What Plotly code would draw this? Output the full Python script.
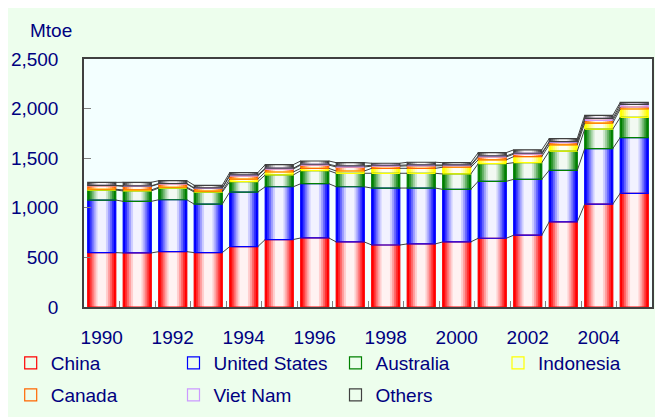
import plotly.graph_objects as go

years = list(range(1990, 2006))
china = [548, 545, 558, 548, 609, 680, 696, 656, 625, 636, 656, 693, 724, 858, 1037, 1146]
united_states = [530, 520, 523, 489, 550, 532, 547, 556, 574, 563, 530, 574, 563, 520, 560, 562]
australia = [101, 105, 118, 122, 104, 119, 131, 136, 149, 149, 155, 178, 168, 193, 196, 203]
indonesia = [8, 10, 8, 10, 27, 30, 24, 23, 50, 50, 68, 38, 61, 63, 61, 85]
canada = [35, 37, 33, 27, 31, 30, 33, 40, 22, 25, 15, 30, 25, 24, 27, 20]
viet_nam = [4, 5, 5, 4, 10, 8, 8, 11, 9, 9, 8, 10, 9, 10, 20, 26]
others = [30, 35, 28, 27, 23, 36, 33, 33, 20, 27, 23, 33, 34, 30, 30, 20]

series_names = ["China", "United States", "Australia", "Indonesia", "Canada", "Viet Nam", "Others"]
series_values = [china, united_states, australia, indonesia, canada, viet_nam, others]
series_colors = ["#FF0000", "#0000FF", "#008000", "#FFFF00", "#FF6600", "#CC99FF", "#404040"]

x_tick_vals = [1990, 1992, 1994, 1996, 1998, 2000, 2002, 2004]
y_tick_vals = [0, 500, 1000, 1500, 2000, 2500]

FONT = "Arial, 'Liberation Sans', sans-serif"
NAVY = "#000080"
W = 0.79
OFF = 8  # page body margin
FW, FH = 663 - OFF, 417 - OFF
ML, MR, MT = 84 - OFF, 11, 59 - OFF
PW = FW - ML - MR
PH = 248
MB = FH - MT - PH


def mix(hexc, t):
    h = hexc.lstrip("#")
    r, g, b = int(h[0:2], 16), int(h[2:4], 16), int(h[4:6], 16)
    r = round(r + (255 - r) * t)
    g = round(g + (255 - g) * t)
    b = round(b + (255 - b) * t)
    return f"rgb({r},{g},{b})"


layers = [(1.0, 0.0), (0.86, 0.2), (0.72, 0.42), (0.58, 0.63), (0.44, 0.81), (0.30, 0.95)]

bases = []
tops = []
running = [0] * len(years)
for vals in series_values:
    bases.append(list(running))
    running = [a + b for a, b in zip(running, vals)]
    tops.append(list(running))

fig = go.Figure()

# gradient layers
for vals, base, col in zip(series_values, bases, series_colors):
    for frac, t in layers:
        fig.add_bar(x=years, y=vals, base=base, width=W * frac,
                    marker=dict(color=mix(col, t), line=dict(width=0)),
                    showlegend=False, hoverinfo="skip")

# outlines + legend entries
for i, (name, vals, base, col) in enumerate(zip(series_names, series_values, bases, series_colors)):
    fig.add_bar(x=years, y=vals, base=base, width=W, name=name,
                marker=dict(color="rgba(0,0,0,0)", line=dict(color=col, width=1.2)),
                legend="legend" if i == 0 else f"legend{i + 1}")

# series lines
lx, ly = [], []
for top in tops:
    for i in range(len(years) - 1):
        lx += [years[i] + W / 2, years[i + 1] - W / 2, None]
        ly += [top[i], top[i + 1], None]
fig.add_scatter(x=lx, y=ly, mode="lines", line=dict(color="#404040", width=1),
                showlegend=False, hoverinfo="skip")

text_x = [50.7, 213.5, 375.5, 538, 50.7, 213.5, 375.5]
row_y = [363, 363, 363, 363, 395, 395, 395]
legends = {}
for i in range(7):
    key = "legend" if i == 0 else f"legend{i + 1}"
    legends[key] = dict(
        xref="container", yref="container",
        x=(text_x[i] - 40 - OFF) / FW, y=1 - (row_y[i] - OFF) / FH,
        xanchor="left", yanchor="middle", orientation="h",
        bgcolor="rgba(0,0,0,0)", borderwidth=0,
        font=dict(family=FONT, size=19, color=NAVY),
    )

fig.update_layout(
    width=FW, height=FH,
    margin=dict(l=ML, r=MR, t=MT, b=MB, autoexpand=False),
    paper_bgcolor="#EDFEED",
    plot_bgcolor="#F3FFFF",
    barmode="overlay",
    font=dict(family=FONT, size=19, color=NAVY),
    xaxis=dict(range=[1989.5, 2005.5], tickvals=x_tick_vals, ticks="",
               showline=True, mirror=True, linecolor="#404040", linewidth=1.5,
               showgrid=False, zeroline=False,
               tickfont=dict(family=FONT, size=19, color=NAVY),
               ticklabelstandoff=12,
               minor=dict(tickvals=[y + 0.5 for y in years[:-1]], ticks="inside",
                          ticklen=6, tickcolor="#808080", tickwidth=1)),
    yaxis=dict(range=[0, 2500], tickvals=y_tick_vals, tickformat=",",
               ticks="inside", ticklen=7, tickcolor="#808080", tickwidth=1,
               showline=True, mirror=True, linecolor="#404040", linewidth=1.5,
               showgrid=False, zeroline=False,
               tickfont=dict(family=FONT, size=19, color=NAVY),
               ticklabelstandoff=20),
    annotations=[dict(text="Mtoe", xref="paper", yref="paper",
                      x=(28 - 84) / PW, y=1 + 29 / PH,
                      xanchor="left", yanchor="middle", showarrow=False,
                      font=dict(family=FONT, size=19, color=NAVY))],
    **legends,
)

fig.write_html("out.html")
